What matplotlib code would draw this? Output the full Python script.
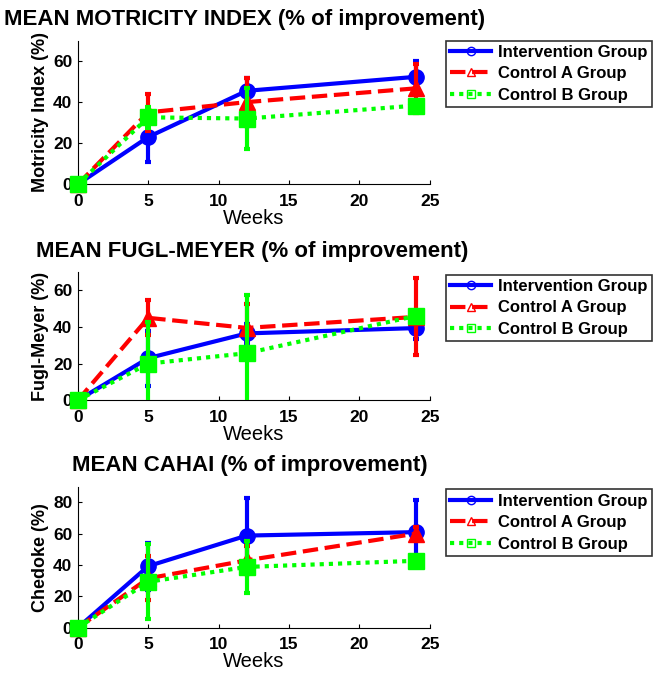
import numpy as np
import matplotlib.pyplot as plt
from matplotlib.lines import Line2D

plt.rcParams['font.family'] = ['Liberation Sans', 'DejaVu Sans']

weeks = [0, 5, 12, 24]
groups = ["Intervention Group", "Control A Group", "Control B Group"]

## Motricity index
mi_int = [0, 23, 45.5, 52.3]
mi_int_err = [0, 12, 6, 7.5]
mi_a = [0, 35, 40, 46.7]
mi_a_err = [0, 9, 11.5, 12]
mi_b = [0, 32.6, 32, 38.3]
mi_b_err = [0, 5, 15, 1]

## Fugl-Meyer
fm_int = [0, 23, 36.5, 39.4]
fm_int_err = [0, 15, 5, 6]
fm_a = [0, 45, 39.5, 45.5]
fm_a_err = [0, 9.5, 13, 21]
fm_b = [0, 20, 25.7, 46]
fm_b_err = [0, 22.5, 32, 1]

## CAHAI
ch_int = [0, 39.3, 58.8, 61]
ch_int_err = [0, 15, 24, 20.5]
ch_a = [0, 31.5, 43, 60]
ch_a_err = [0, 14, 9, 4]
ch_b = [0, 29.3, 38.8, 42.7]
ch_b_err = [0, 24, 16.5, 1]

panels = [
    ("MEAN MOTRICITY INDEX (% of improvement)", "Motricity Index (%)", 70, [0, 20, 40, 60],
     [(mi_int, mi_int_err), (mi_a, mi_a_err), (mi_b, mi_b_err)]),
    ("MEAN FUGL-MEYER (% of improvement)", "Fugl-Meyer (%)", 70, [0, 20, 40, 60],
     [(fm_int, fm_int_err), (fm_a, fm_a_err), (fm_b, fm_b_err)]),
    ("MEAN CAHAI (% of improvement)", "Chedoke (%)", 90, [0, 20, 40, 60, 80],
     [(ch_int, ch_int_err), (ch_a, ch_a_err), (ch_b, ch_b_err)]),
]

colors = ["#0000ff", "#ff0000", "#00ff00"]
styles = ["-", (0, (3.7, 1.6)), (0, (1.0, 1.2))]
markers = ["o", "^", "s"]

# axes rectangles [left, bottom, width, height] in figure fraction
rects = [[0.119, 0.727, 0.538, 0.213],
         [0.119, 0.407, 0.538, 0.190],
         [0.119, 0.070, 0.538, 0.209]]
leg_top = [1.0, 0.98, 0.98]
title_x = [0.475, 0.495, 0.49]

fig = plt.figure(figsize=(6.54, 6.75), dpi=100)

for i, (title, ylab, ymax, yt, series) in enumerate(panels):
    ax = fig.add_axes(rects[i])
    for j, (vals, err) in enumerate(series):
        cont = ax.errorbar(weeks, vals, yerr=err, color=colors[j], ls=styles[j], lw=3,
                           marker=markers[j], ms=11, elinewidth=3, capsize=2, capthick=3,
                           clip_on=False, zorder=3 + j)
        # error bars are cut at the axes, markers are not
        for c in cont[1]:
            c.set_clip_on(True)
        for c in cont[2]:
            c.set_clip_on(True)
    ax.set_xlim(0, 25)
    ax.set_ylim(0, ymax)
    ax.set_xticks([0, 5, 10, 15, 20, 25])
    ax.set_yticks(yt)
    ax.spines['top'].set_visible(False)
    ax.spines['right'].set_visible(False)
    ax.tick_params(direction='in', labelsize=12.5, length=3)
    ax.tick_params(axis='x', pad=7)
    ax.tick_params(axis='y', pad=4)
    for lab in ax.get_xticklabels() + ax.get_yticklabels():
        lab.set_fontweight('bold')
    ax.set_xlabel("Weeks", fontsize=14.5, labelpad=0)
    ax.set_ylabel(ylab, fontsize=13, fontweight='bold', labelpad=3)
    ax.set_title(title, fontsize=16, fontweight='bold', pad=11, x=title_x[i])

    handles = [Line2D([], [], color=colors[k], ls=styles[k], lw=3, marker=markers[k],
                      ms=6, mfc='none', mew=1) for k in range(3)]
    leg = ax.legend(handles, groups, loc='upper left', bbox_to_anchor=(1.045, leg_top[i]),
                    borderaxespad=0, frameon=True, fancybox=False, edgecolor='black',
                    prop={'weight': 'bold', 'size': 12}, handlelength=2.5,
                    handletextpad=0.4, labelspacing=0.4, borderpad=0.25)
    leg.get_frame().set_linewidth(1.2)

fig.savefig("out.png", dpi=100)
